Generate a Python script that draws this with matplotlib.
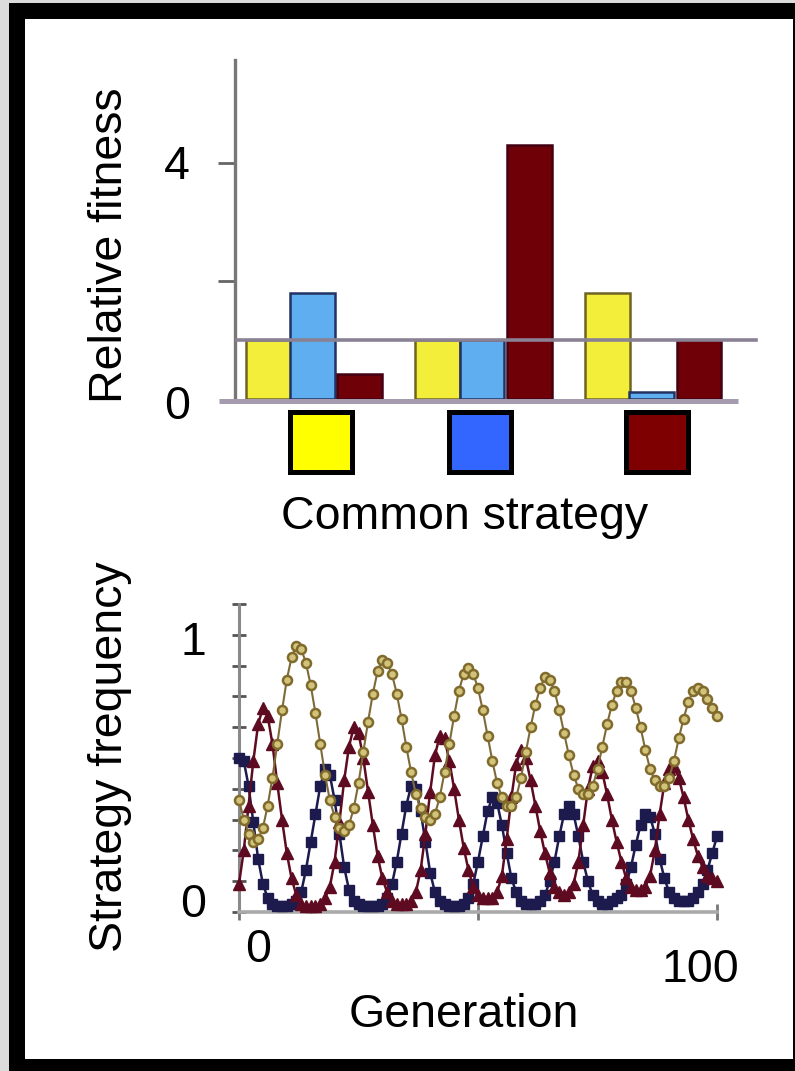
import matplotlib
matplotlib.use('Agg')
import matplotlib.pyplot as plt
from matplotlib.patches import Rectangle
import numpy as np

plt.rcParams['font.family'] = ['Liberation Sans', 'DejaVu Sans']

# ---------------- data: top panel ----------------
common_strategies = ['yellow', 'blue', 'red']
fit_yellow = [1.0, 1.0, 1.8]
fit_blue = [1.8, 1.0, 0.12]
fit_red = [0.42, 4.3, 1.0]
fit_ticks = [2, 4]
fit_reference = 1.0

# ---------------- data: bottom panel ----------------
generations = list(range(101))
freq_yellow = [
    .40, .33, .28, .25, .26, .30, .38, .48, .60, .72,
    .83, .91, .95, .94, .89, .81, .71, .60, .49, .40,
    .34, .30, .29, .31, .37, .46, .57, .68, .78, .86,
    .90, .89, .85, .78, .69, .59, .50, .42, .37, .34,
    .33, .35, .41, .50, .60, .70, .79, .85, .87, .85,
    .80, .72, .63, .54, .46, .41, .38, .38, .41, .48,
    .57, .66, .74, .80, .84, .83, .79, .72, .64, .56,
    .49, .44, .42, .42, .45, .51, .59, .67, .74, .79,
    .82, .82, .79, .73, .66, .58, .51, .47, .45, .45,
    .48, .54, .62, .69, .75, .79, .80, .79, .76, .73, .70]
freq_blue = [
    .55, .54, .45, .32, .19, .10, .05, .03, .02, .02,
    .02, .03, .04, .07, .15, .25, .35, .45, .51, .49,
    .40, .28, .16, .08, .04, .03, .02, .02, .02, .02,
    .03, .05, .10, .18, .28, .38, .45, .44, .36, .25,
    .14, .07, .04, .03, .02, .02, .02, .03, .05, .10,
    .18, .27, .36, .41, .39, .31, .21, .12, .07, .04,
    .03, .03, .03, .04, .06, .11, .18, .27, .35, .38,
    .35, .27, .18, .11, .06, .04, .03, .03, .04, .05,
    .06, .10, .16, .24, .31, .35, .34, .28, .19, .12,
    .07, .05, .04, .04, .04, .05, .07, .10, .15, .21, .27]
freq_red = [
    .10, .22, .38, .54, .67, .73, .70, .60, .46, .33,
    .21, .12, .06, .03, .02, .02, .02, .03, .05, .09,
    .18, .32, .47, .59, .66, .64, .55, .43, .31, .20,
    .12, .07, .04, .03, .03, .03, .04, .07, .15, .28,
    .43, .56, .63, .62, .54, .44, .33, .23, .15, .09,
    .06, .05, .05, .05, .07, .13, .26, .41, .53, .58,
    .55, .47, .38, .29, .21, .14, .09, .07, .06, .07,
    .10, .18, .31, .44, .52, .54, .50, .42, .33, .25,
    .18, .12, .09, .08, .08, .09, .13, .22, .35, .46,
    .51, .52, .48, .41, .33, .26, .20, .16, .13, .12, .11]
gen_ticks = [0, 50, 100]

# ---------------- layout helpers (pixels -> figure fraction) ----------------
W, H = 795, 1071
def fx(x):
    return x / W
def fy(y):
    return 1 - y / H

fig = plt.figure(figsize=(W / 100, H / 100), dpi=100)
fig.patch.set_facecolor('#dcdcdc')
fig.patches.append(Rectangle((fx(9), fy(1071)), fx(795) - fx(9), fy(3) - fy(1071),
                             transform=fig.transFigure, facecolor='black', edgecolor='none', zorder=-10))
fig.patches.append(Rectangle((fx(25), fy(1059)), fx(793) - fx(25), fy(19) - fy(1059),
                             transform=fig.transFigure, facecolor='white', edgecolor='none', zorder=-9))

FS = 33.5

# ---------------- top panel ----------------
ax1 = fig.add_axes([fx(235), fy(399), fx(760) - fx(235), fy(60) - fy(399)])
ax1.set_facecolor('none')
ax1.set_xlim(-0.457, 2.64)
ax1.set_ylim(0, 5.75)
x = np.arange(len(common_strategies))
off, bw = 0.28, 0.265
ax1.bar(x - off + 0.02, fit_yellow, bw, color='#f3ee3a', edgecolor='#6e6424', linewidth=1.8, zorder=2)
ax1.bar(x, fit_blue, bw, color='#5eaef0', edgecolor='#223262', linewidth=1.8, zorder=2)
ax1.bar(x + off, fit_red, bw, color='#700008', edgecolor='#420012', linewidth=1.8, zorder=2)
ax1.axhline(fit_reference, xmin=0, xmax=0.992, color='#8a8294', lw=2.6, zorder=3)
ax1.plot([-0.552, 2.51], [-0.04, -0.04], color='#a49cae', lw=3.6, clip_on=False,
         zorder=4, solid_capstyle='butt')
for s in ['top', 'right', 'bottom']:
    ax1.spines[s].set_visible(False)
ax1.spines['left'].set_color('#777777')
ax1.spines['left'].set_linewidth(2.4)
ax1.set_xticks([])
ax1.set_yticks(fit_ticks)
ax1.set_yticklabels([])
ax1.tick_params(axis='y', direction='out', length=12, width=2, color='#666666')

fig.text(fx(177), fy(179), '4', ha='center', va='baseline', fontsize=FS)
fig.text(fx(177), fy(419), '0', ha='center', va='baseline', fontsize=FS)
fig.text(fx(110), fy(245), 'Relative fitness', ha='center', va='center',
         rotation=90, fontsize=FS)

sq_colors = ['#ffff00', '#3366ff', '#7f0000']
sq_left = [287, 446, 623]
for c, l in zip(sq_colors, sq_left):
    fig.patches.append(Rectangle((fx(l + 2.5), fy(474 - 2.5)), fx(67 - 5), fy(0) - fy(65 - 5),
                                 transform=fig.transFigure, facecolor=c,
                                 edgecolor='black', linewidth=3.6))
fig.text(fx(465), fy(529), 'Common strategy', ha='center', va='baseline', fontsize=FS)

# ---------------- bottom panel ----------------
ax2 = fig.add_axes([fx(239), fy(912), fx(717) - fx(239), fy(604) - fy(912)])
ax2.set_facecolor('none')
ax2.set_xlim(0, 100)
ax2.set_ylim(0, 1.1)
ax2.plot(generations, freq_blue, '-s', color='#1d1a4e', ms=7, lw=1.8,
         clip_on=False, zorder=3)
ax2.plot(generations, freq_red, '-^', color='#5e0b22', ms=8.5, lw=1.8,
         clip_on=False, zorder=4)
ax2.plot(generations, freq_yellow, '-o', color='#7d6a38', mfc='#d2c37a', mec='#806a2c',
         mew=1.8, ms=6.5, lw=1.5, clip_on=False, zorder=5)
for s in ['top', 'right']:
    ax2.spines[s].set_visible(False)
ax2.spines['left'].set_color('#8a8a8a')
ax2.spines['left'].set_linewidth(2.2)
ax2.spines['bottom'].set_color('#aaaaaa')
ax2.spines['bottom'].set_linewidth(2.6)
ax2.set_yticks(np.linspace(0, 1.1, 11))
ax2.set_yticklabels([])
ax2.tick_params(axis='y', direction='inout', length=10, width=2, color='#555555')
ax2.set_xticks(gen_ticks)
ax2.set_xticklabels([])
ax2.tick_params(axis='x', direction='inout', length=12, width=2, color='#777777')

fig.text(fx(193), fy(655), '1', ha='center', va='baseline', fontsize=FS)
fig.text(fx(193), fy(917), '0', ha='center', va='baseline', fontsize=FS)
fig.text(fx(258), fy(962), '0', ha='center', va='baseline', fontsize=FS)
fig.text(fx(700), fy(982), '100', ha='center', va='baseline', fontsize=FS)
fig.text(fx(464), fy(1027), 'Generation', ha='center', va='baseline', fontsize=FS)
fig.text(fx(110), fy(757), 'Strategy frequency', ha='center', va='center',
         rotation=90, fontsize=FS)

fig.savefig('out.png', dpi=100, facecolor=fig.get_facecolor())
